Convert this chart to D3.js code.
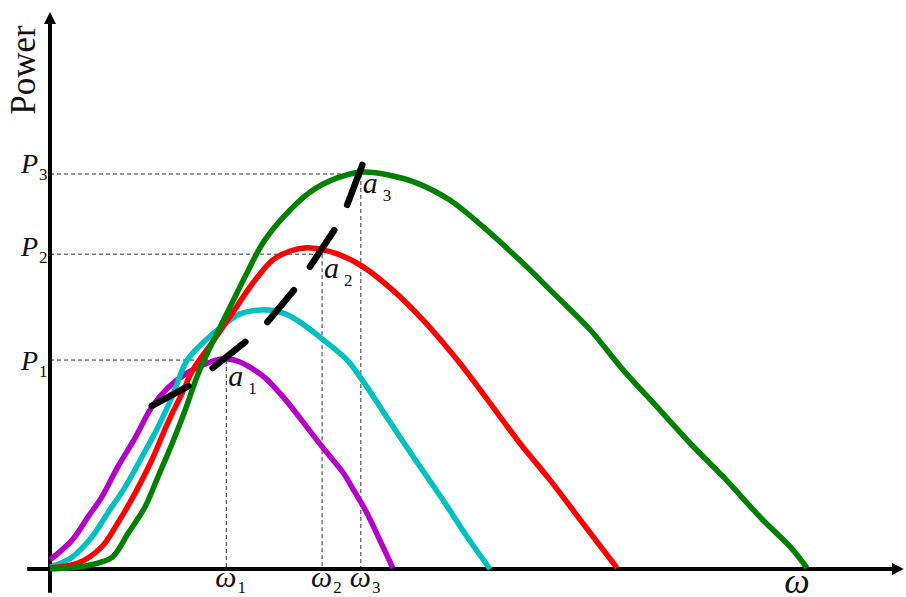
<!DOCTYPE html>
<html>
<head>
<script src="https://d3js.org/d3.v7.min.js"></script>
<title>Power vs omega</title>
<style>
  body { margin: 0; background: #fff; }
  svg { display: block; }
  .lbl { font-family: "Liberation Serif", "Times New Roman", serif; fill: #111; }
</style>
</head>
<body>
<div id="chart"></div>
<script>
// curves as [omega, power], omega and power scaled so w_end ~ 1, P3 = 1
var purple = [[0,0.023],[0.029,0.073],[0.050,0.132],[0.068,0.182],[0.089,0.258],[0.112,0.332],[0.134,0.410],
  [0.155,0.458],[0.180,0.496],[0.211,0.524],[0.230,0.532],[0.250,0.524],[0.263,0.511],[0.283,0.484],[0.307,0.435],
  [0.329,0.382],[0.351,0.327],[0.368,0.286],[0.386,0.243],[0.401,0.195],[0.417,0.142],[0.434,0.073],[0.451,0.003]];
var cyan = [[0,0.005],[0.029,0.030],[0.055,0.081],[0.076,0.142],[0.099,0.208],[0.121,0.284],[0.142,0.359],
  [0.161,0.438],[0.180,0.527],[0.201,0.572],[0.232,0.623],[0.250,0.646],[0.279,0.656],[0.307,0.648],[0.329,0.625],
  [0.355,0.587],[0.391,0.529],[0.408,0.486],[0.417,0.461],[0.443,0.385],[0.478,0.284],[0.517,0.175],[0.549,0.081],
  [0.579,0]];
var red = [[0,0.003],[0.037,0.015],[0.068,0.056],[0.089,0.116],[0.112,0.192],[0.134,0.276],[0.155,0.370],
  [0.174,0.446],[0.188,0.504],[0.214,0.575],[0.241,0.651],[0.267,0.724],[0.293,0.782],[0.316,0.805],[0.338,0.813],
  [0.359,0.808],[0.382,0.795],[0.412,0.765],[0.451,0.706],[0.491,0.630],[0.536,0.529],[0.579,0.420],[0.618,0.319],
  [0.658,0.225],[0.701,0.116],[0.746,0.003]];
var green = [[0,0],[0.037,0.005],[0.063,0.015],[0.082,0.030],[0.103,0.091],[0.125,0.157],[0.142,0.233],
  [0.161,0.319],[0.178,0.403],[0.197,0.504],[0.233,0.648],[0.259,0.749],[0.280,0.825],[0.307,0.891],
  [0.342,0.954],[0.378,0.990],[0.412,1.005],[0.447,0.997],[0.483,0.977],[0.526,0.934],[0.570,0.866],[0.618,0.782],
  [0.662,0.699],[0.711,0.605],[0.754,0.504],[0.799,0.410],[0.842,0.319],[0.886,0.233],[0.938,0.124],[0.974,0.056],
  [0.996,0.003]];

// optimum tracking curve, drawn as separate thick dashes
var optDashes = [
  [[0.134,0.413],[0.182,0.463]],
  [[0.214,0.509],[0.257,0.575]],
  [[0.286,0.625],[0.321,0.706]],
  [[0.342,0.765],[0.374,0.858]],
  [[0.391,0.922],[0.411,1.023]]
];

// operating points
var omegaMarks = [0.232, 0.358, 0.409];
var powerMarks = [0.529, 0.797, 1.0];
var markIds = ["1", "2", "3"];

var xExtent = [-0.03, 1.126];
var yExtent = [-0.06, 1.415];

var width = 906, height = 597;

var svg = d3.select("#chart").append("svg")
  .attr("width", width)
  .attr("height", height);

var x = d3.scaleLinear().domain([0, 1]).range([50, 810]);
var y = d3.scaleLinear().domain([0, 1]).range([569, 174]);

var line = d3.line()
  .x(function(d) { return x(d[0]); })
  .y(function(d) { return y(d[1]); })
  .curve(d3.curveCatmullRom.alpha(0.5));

// arrow heads
var defs = svg.append("defs");
defs.append("marker")
  .attr("id", "arrow")
  .attr("viewBox", "0 0 12 12")
  .attr("refX", 2).attr("refY", 6)
  .attr("markerWidth", 12).attr("markerHeight", 12)
  .attr("markerUnits", "userSpaceOnUse")
  .attr("orient", "auto")
  .append("path")
  .attr("d", "M0,0 L12,6 L0,12 Z")
  .attr("fill", "#000");

// dashed guide lines
var guides = svg.append("g")
  .attr("stroke", "#333")
  .attr("stroke-width", 1)
  .attr("stroke-dasharray", "4,3")
  .attr("fill", "none");

omegaMarks.forEach(function(w, i) {
  guides.append("line")
    .attr("x1", x(0)).attr("x2", x(w))
    .attr("y1", y(powerMarks[i])).attr("y2", y(powerMarks[i]));
  guides.append("line")
    .attr("x1", x(w)).attr("x2", x(w))
    .attr("y1", y(powerMarks[i])).attr("y2", y(0));
});

// axes
svg.append("line")
  .attr("x1", x(xExtent[0])).attr("x2", x(xExtent[1]) - 12)
  .attr("y1", y(0)).attr("y2", y(0))
  .attr("stroke", "#000").attr("stroke-width", 4)
  .attr("marker-end", "url(#arrow)");
svg.append("line")
  .attr("x1", x(0)).attr("x2", x(0))
  .attr("y1", y(yExtent[0])).attr("y2", y(yExtent[1]) + 12)
  .attr("stroke", "#000").attr("stroke-width", 4)
  .attr("marker-end", "url(#arrow)");

// power curves
var curves = [
  { data: purple, color: "#b400c8" },
  { data: cyan, color: "#00c0c0" },
  { data: red, color: "#ff0000" },
  { data: green, color: "#008000" }
];

svg.selectAll(".curve")
  .data(curves)
  .enter().append("path")
  .attr("class", "curve")
  .attr("d", function(d) { return line(d.data); })
  .attr("fill", "none")
  .attr("stroke", function(d) { return d.color; })
  .attr("stroke-width", 5.5)
  .attr("stroke-linejoin", "round");

svg.selectAll(".opt")
  .data(optDashes)
  .enter().append("path")
  .attr("class", "opt")
  .attr("d", d3.line().x(function(d) { return x(d[0]); }).y(function(d) { return y(d[1]); }))
  .attr("stroke", "#000")
  .attr("stroke-width", 6.5)
  .attr("stroke-linecap", "round")
  .attr("fill", "none");

// labels
function subLabel(sym, sub, px, py, size, subDy, subDx) {
  var t = svg.append("text")
    .attr("class", "lbl")
    .attr("x", px).attr("y", py)
    .style("font-size", size + "px")
    .style("font-style", "italic");
  t.append("tspan").text(sym);
  t.append("tspan")
    .attr("dx", subDx)
    .attr("dy", subDy)
    .style("font-style", "normal")
    .style("font-size", "17px")
    .text(sub);
  return t;
}

var pDy = [10, 2, -1];
var aDy = [26, 24, 19];
markIds.forEach(function(id, i) {
  subLabel("P", id, 21, y(powerMarks[i]) + pDy[i], 28, 7, 1);
  subLabel("\u03c9", id, x(omegaMarks[i]) - 11, 587, 30, 6, 1);
  subLabel("a", id, x(omegaMarks[i]) + 2, y(powerMarks[i]) + aDy[i], 30, 8, 5);
});

svg.append("text")
  .attr("class", "lbl")
  .attr("x", x(0.983)).attr("y", 593)
  .attr("text-anchor", "middle")
  .style("font-size", "36px")
  .style("font-style", "italic")
  .text("\u03c9");

svg.append("text")
  .attr("class", "lbl")
  .attr("transform", "translate(35,70) rotate(-90)")
  .attr("text-anchor", "middle")
  .style("font-size", "35px")
  .text("Power");
</script>
</body>
</html>
